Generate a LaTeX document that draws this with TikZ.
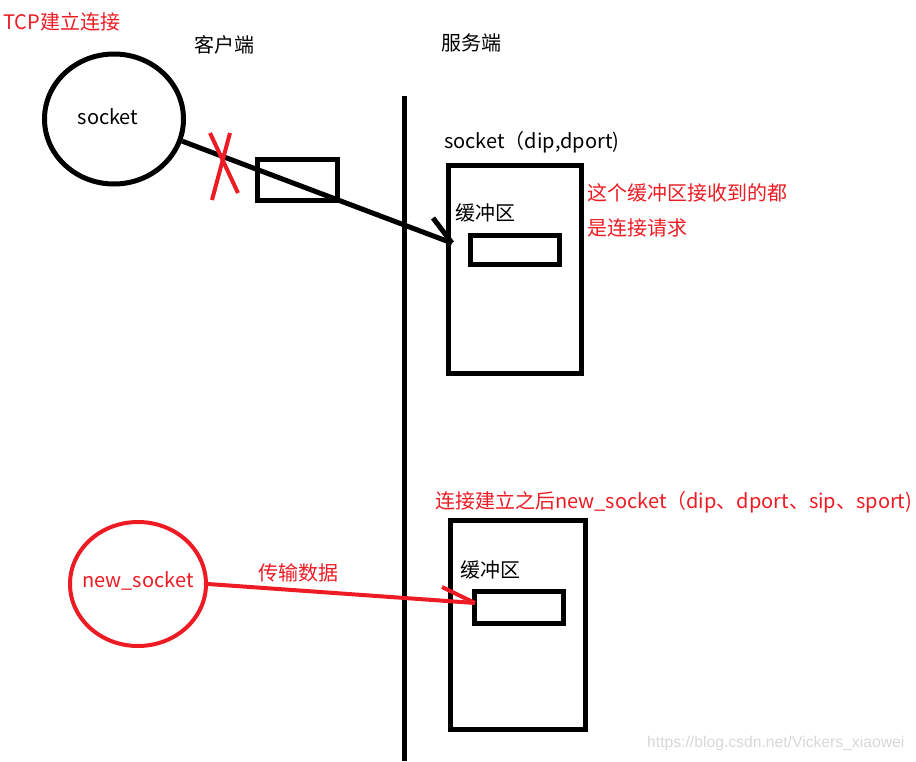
\documentclass[tikz,border=0pt]{standalone}
\usepackage{fontspec}
\setmainfont{Noto Sans CJK SC}
\newfontfamily\wmfont{Liberation Sans}
\usetikzlibrary{shapes.geometric}
\definecolor{pred}{HTML}{ED1C24}
\definecolor{wmgray}{HTML}{D8D8D8}
\begin{document}
\begin{tikzpicture}[x=1pt,y=-1pt,
  blk/.style={draw=black, line width=5pt},
  redl/.style={draw=pred, line width=4pt},
  boxn/.style={rectangle, blk, inner sep=0pt},
  lbl/.style={inner sep=0pt, anchor=west, font=\fontsize{20}{24}\selectfont},
  clbl/.style={inner sep=0pt, font=\fontsize{20}{24}\selectfont},
  rlbl/.style={lbl, text=pred}]
\useasboundingbox[fill=white] (0,0) rectangle (916,761);

% titles
\node[rlbl] (title) at (3,22) {TCP建立连接};
\node[clbl] (kh) at (224,45) {客户端};
\node[clbl] (fw) at (471,43) {服务端};

% client socket
\node[ellipse, blk, minimum width=139pt, minimum height=130pt, inner sep=0pt] (cli) at (114,119) {};
\node[clbl] (cliT) at (108,117) {socket};

% packet box
\node[boxn, minimum width=80pt, minimum height=41pt] (pkt) at (297.5,180) {};

% divider
\coordinate (vtop) at (404.5,96);
\coordinate (vbot) at (404.5,761);
\draw[blk] (vtop) -- (vbot);

% server box 1
\node[lbl] (s1T) at (444,142) {socket（dip,dport)};
\node[boxn, minimum width=132.5pt, minimum height=208pt] (box1) at (514.75,269) {};
\node[lbl] (buf1T) at (455,213) {缓冲区};
\node[boxn, minimum width=89pt, minimum height=29.5pt] (buf1) at (515,250) {};
\node[rlbl] (note1) at (587,193) {这个缓冲区接收到的都};
\node[rlbl] (note2) at (587,228) {是连接请求};

% connection arrow (blocked)
\coordinate (tip1) at (452,243);
\draw[blk] (cli.-18) -- (tip1);
\draw[blk] (tip1) -- ++(-19,-25);
\draw[redl] (210,133) -- (238,193);
\draw[redl] (230,133) -- (212,200);

% lower part
\node[rlbl] (note3) at (435,502) {连接建立之后new\_socket（dip、dport、sip、sport)};
\node[boxn, minimum width=134.4pt, minimum height=208.4pt] (box2) at (518,625) {};
\node[lbl] (buf2T) at (460,570) {缓冲区};
\node[boxn, minimum width=88.4pt, minimum height=32pt] (buf2) at (519,607.5) {};

\node[ellipse, redl, minimum width=136pt, minimum height=124pt, inner sep=0pt] (newc) at (138,584) {};
\node[clbl, text=pred] (newcT) at (138,581) {new\_socket};

\coordinate (tip2) at (475,603);
\draw[redl] (newc.east) -- (tip2);
\draw[redl] (tip2) -- ++(-33,-16);
\node[rlbl] (dataT) at (258,573) {传输数据};

% watermark
\node[inner sep=0pt, anchor=west, text=wmgray, font=\wmfont\fontsize{15.7}{18}\selectfont] (wm) at (647,743) {https://blog.csdn.net/Vickers\_xiaowei};
\end{tikzpicture}
\end{document}
